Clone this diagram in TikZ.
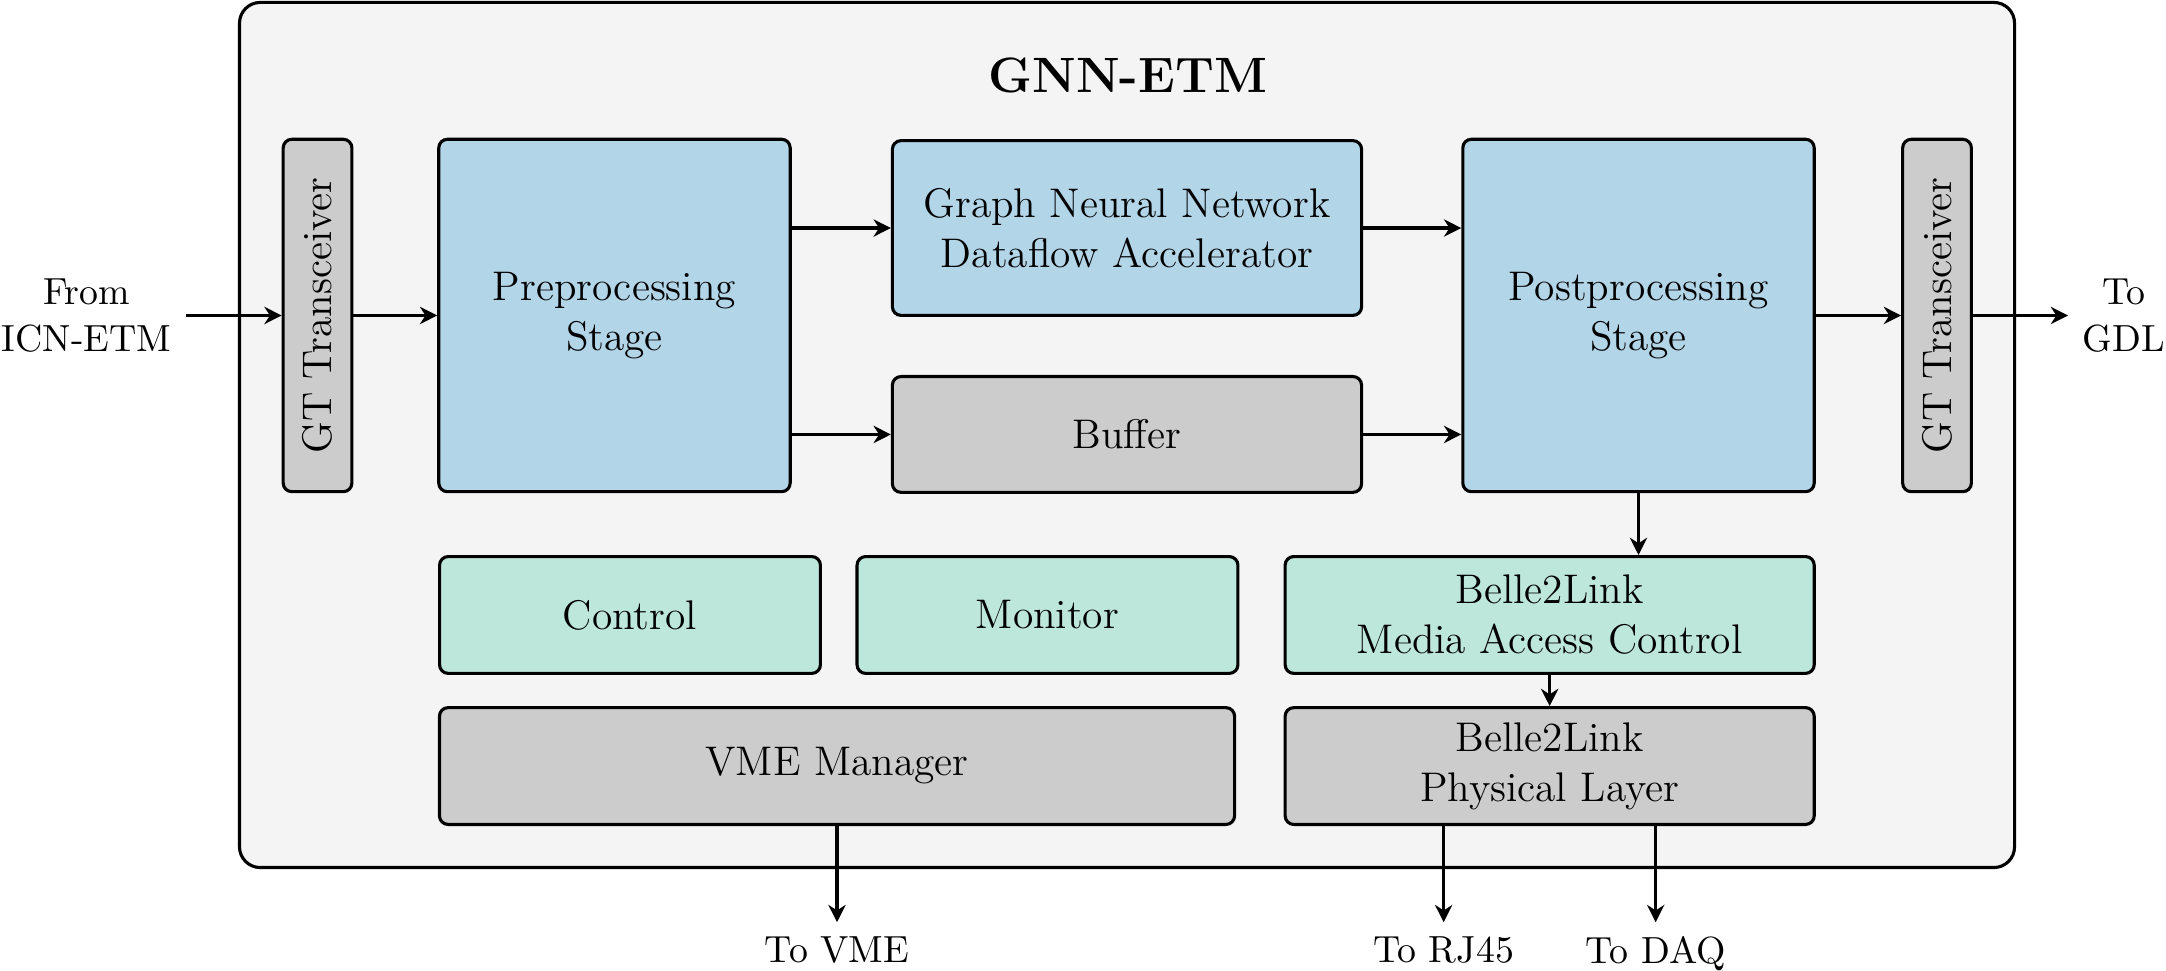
\documentclass[tikz,border=0pt,12pt]{standalone}
\usepackage{tikz}
\usetikzlibrary{arrows.meta,positioning}
\definecolor{procblue}{RGB}{179,213,232}
\definecolor{ctrlgreen}{RGB}{190,231,220}
\definecolor{iogray}{RGB}{204,204,204}
\definecolor{etmback}{RGB}{244,244,244}

\begin{document}
\begin{tikzpicture}[
	blk/.style = {draw, line width = 0.9pt, rounded corners = 2.5pt, align = center, inner sep = 2pt},
	proc/.style = {blk, fill = procblue},
	ctrl/.style = {blk, fill = ctrlgreen, minimum height = 1.19cm},
	phys/.style = {blk, fill = iogray},
	gt/.style = {phys, rotate = 90, minimum width = 3.59cm, minimum height = 0.70cm},
	ext/.style = {align = center, font = \small},
	link/.style = {line width = 0.9pt, -{Stealth[length = 5pt, width = 5pt, inset = 1.6pt]}}
]
\useasboundingbox (0,0) rectangle (22.066,-9.892);
\draw [line width = 0.9pt, fill = etmback, rounded corners = 6pt] (2.440,-0.025) rectangle (20.523,-8.838);
\node [font = \large\bfseries] (title) at (11.49,-0.77) {GNN-ETM};

\node [gt] (gtin) at (3.235,-3.214) {GT Transceiver};
\node [proc, minimum width = 3.58cm, minimum height = 3.59cm] (pre) at (6.260,-3.214) {Preprocessing\\Stage};
\node [proc, minimum width = 4.78cm, minimum height = 1.78cm] (gnn) at (11.481,-2.323) {Graph Neural Network\\Dataflow Accelerator};
\node [phys, minimum width = 4.78cm, minimum height = 1.18cm] (buf) at (11.481,-4.426) {Buffer};
\node [proc, minimum width = 3.58cm, minimum height = 3.59cm] (post) at (16.692,-3.214) {Postprocessing\\Stage};
\node [gt] (gtout) at (19.733,-3.214) {GT Transceiver};

\node [ctrl, minimum width = 3.88cm] (ctl) at (6.418,-6.265) {Control};
\node [ctrl, minimum width = 3.88cm] (mon) at (10.671,-6.265) {Monitor};
\node [ctrl, minimum width = 5.39cm] (mac) at (15.787,-6.265) {Belle2Link\\Media Access Control};
\node [phys, minimum width = 8.10cm, minimum height = 1.19cm] (vme) at (8.527,-7.804) {VME Manager};
\node [phys, minimum width = 5.39cm, minimum height = 1.19cm] (phy) at (15.787,-7.804) {Belle2Link\\Physical Layer};

\node [ext, anchor = east] (src) at (1.892,-3.214) {From\\ICN-ETM};
\node [ext, anchor = west] (dst) at (21.068,-3.214) {To\\GDL};
\node [ext, below = 0.98cm of vme] (vmeout) {To VME};

\draw [link] (src) -- (gtin);
\draw [link] (gtin) -- (pre);
\draw [link] (pre.east |- gnn) -- (gnn);
\draw [link] (pre.east |- buf) -- (buf);
\draw [link] (gnn) -- (gnn -| post.west);
\draw [link] (buf) -- (buf -| post.west);
\draw [link] (post) -- (gtout);
\draw [link] (gtout) -- (dst);
\draw [link] (post.south) -- (post.south |- mac.north);
\draw [link] (mac) -- (phy);
\draw [link] (vme) -- (vmeout);
\foreach \dx/\name/\txt in {-1.08/rj/To RJ45, 1.08/daq/To DAQ}
{
	\node [ext, below = 0.98cm of phy, xshift = \dx cm] (\name) {\txt};
	\draw [link] (phy.south -| \name) -- (\name);
}
\end{tikzpicture}
\end{document}
